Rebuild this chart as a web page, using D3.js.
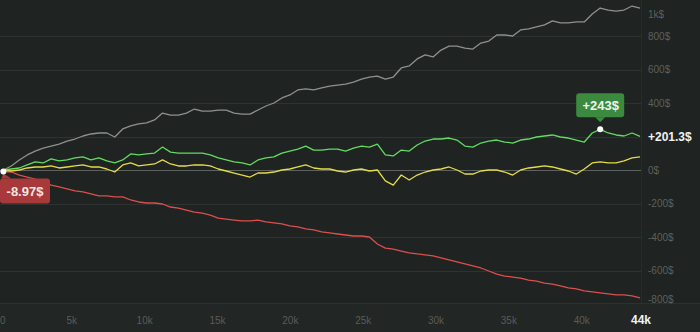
<!DOCTYPE html>
<html>
<head>
<meta charset="utf-8">
<script src="https://cdn.jsdelivr.net/npm/d3@7"></script>
<style>
  html, body { margin: 0; padding: 0; background: #1f2321; overflow: hidden; }
  svg { display: block; font-family: "Liberation Sans", Arial, sans-serif; }
</style>
</head>
<body>
<svg id="chart" width="700" height="332"></svg>
<script>
// Trade counts covered by the samples (evenly spaced from first to last trade)
const FIRST_TRADE = 300;
const LAST_TRADE = 44000;

// Cumulative profit, $ per sample
const grossValues = [
  0, 24, 60, 90, 113, 131, 143, 155, 173, 185, 203, 215, 221, 221, 197, 245, 263, 275, 281, 299,
  340, 328, 328, 340, 364, 352, 352, 358, 358, 340, 334, 334, 358, 382, 400, 430, 448, 478, 484, 478,
  490, 501, 507, 513, 525, 543, 555, 561, 543, 555, 609, 621, 663, 687, 675, 716, 740, 740, 728, 722,
  758, 770, 806, 806, 800, 836, 842, 854, 866, 890, 878, 878, 884, 884, 931, 967, 955, 949, 955, 979, 967
];
const netValues = [
  0, 6, 12, 30, 48, 42, 66, 54, 60, 72, 78, 60, 72, 54, 42, 60, 96, 90, 96, 101,
  137, 107, 101, 101, 101, 101, 90, 72, 60, 48, 42, 30, 60, 72, 78, 101, 113, 125, 143, 119,
  119, 125, 125, 113, 131, 143, 137, 155, 90, 84, 119, 113, 149, 173, 185, 185, 191, 179, 143, 137,
  161, 173, 179, 167, 161, 179, 185, 197, 203, 209, 197, 191, 179, 167, 221, 243, 221, 209, 203, 221, 201.3
];
const adjustedValues = [
  0, -6, 0, 12, 18, 18, 24, 12, 18, 24, 30, 18, 18, 6, -12, 30, 42, 24, 30, 36,
  60, 36, 24, 24, 30, 30, 24, 6, -6, -18, -30, -42, -18, -18, -12, 0, 6, 18, 30, 12,
  6, 6, -6, -12, 0, 6, -6, 0, -65, -90, -30, -60, -30, -12, 0, 6, 18, 0, -24, -24,
  -6, 0, 0, -12, -30, 0, 12, 18, 24, 18, 6, -6, -24, 6, 42, 48, 42, 42, 54, 72, 78
];
const lossValues = [
  -8.97, -12, -30, -42, -54, -72, -90, -101, -113, -125, -131, -143, -155, -155, -161, -161, -179, -191, -197, -197,
  -203, -221, -227, -239, -251, -257, -269, -287, -293, -299, -304, -304, -299, -310, -316, -322, -334, -340, -352, -358,
  -370, -376, -382, -388, -394, -394, -400, -442, -466, -472, -484, -495, -501, -507, -513, -525, -537, -549, -561, -573,
  -585, -603, -621, -633, -639, -645, -657, -663, -675, -681, -692, -704, -710, -722, -728, -734, -740, -746, -746, -752, -764
];

// Axis ticks
const xTicks = [0, 5000, 10000, 15000, 20000, 25000, 30000, 35000, 40000];
const xTickLabels = ["0", "5k", "10k", "15k", "20k", "25k", "30k", "35k", "40k"];
const xEndLabel = "44k";
const yTicks = [-800, -600, -400, -200, 0, 200, 400, 600, 800, 1000];
const yTickLabels = ["-800$", "-600$", "-400$", "-200$", "0$", "200$", "400$", "600$", "800$", "1k$"];

// Highlighted points: peak of the net curve and the first sample of the loss curve
const peakIndex = 75;
const peakLabel = "+243$";
const startLabel = "-8.97$";
const endLabel = "+201.3$";

const W = 700, H = 332;
const plot = { left: 0, right: 641, top: 0, bottom: 303 };

const svg = d3.select("#chart");

const n = netValues.length;
const tradeAt = i => FIRST_TRADE + i * (LAST_TRADE - FIRST_TRADE) / (n - 1);

const x = d3.scaleLinear().domain([0, 44000]).range([-1, 640]);
const y = d3.scaleLinear().domain([-800, 1000]).range([304, 2.5]);

// Backgrounds
svg.append("rect").attr("width", W).attr("height", H).attr("fill", "#1f2321");
svg.append("rect").attr("x", 0).attr("y", plot.bottom).attr("width", W).attr("height", H - plot.bottom)
  .attr("fill", "#222624");
svg.append("line").attr("x1", 0).attr("x2", W).attr("y1", plot.bottom + 0.5).attr("y2", plot.bottom + 0.5)
  .attr("stroke", "#2d312f").attr("stroke-width", 1);
svg.append("line").attr("x1", plot.right + 0.5).attr("x2", plot.right + 0.5).attr("y1", 0).attr("y2", plot.bottom)
  .attr("stroke", "#272b29").attr("stroke-width", 1);

// Horizontal grid
const grid = svg.append("g");
grid.selectAll("line").data(yTicks.filter(v => v > -800 && v < 1000)).join("line")
  .attr("x1", plot.left).attr("x2", plot.right)
  .attr("y1", d => Math.round(y(d)) + 0.5).attr("y2", d => Math.round(y(d)) + 0.5)
  .attr("stroke", d => d === 0 ? "#5d615f" : "#2e3230")
  .attr("stroke-width", 1);

// Curves
svg.append("clipPath").attr("id", "plotClip").append("rect")
  .attr("x", plot.left).attr("y", plot.top)
  .attr("width", plot.right - plot.left).attr("height", plot.bottom - plot.top);

const line = d3.line().x((d, i) => x(tradeAt(i))).y(d => y(d)).curve(d3.curveLinear);
const curves = svg.append("g").attr("clip-path", "url(#plotClip)");
const seriesList = [
  { values: grossValues, color: "#8f908f" },
  { values: lossValues, color: "#dc4f4c" },
  { values: adjustedValues, color: "#e4dc48" },
  { values: netValues, color: "#62dc62" }
];
curves.selectAll("path").data(seriesList).join("path")
  .attr("d", d => line(d.values))
  .attr("fill", "none")
  .attr("stroke", d => d.color)
  .attr("stroke-width", 1.3)
  .attr("stroke-linejoin", "round");

// Right value axis: labels clamped inside the plot, the one under the last-value label dropped
const endY = y(netValues[n - 1]);
const yAxis = svg.append("g");
yTicks.forEach((v, k) => {
  const cy = Math.max(14, Math.min(299, y(v)));
  if (Math.abs(cy - endY) < 12) return;
  yAxis.append("text")
    .attr("x", 648).attr("y", cy).attr("dy", "0.36em")
    .attr("font-size", 10).attr("fill", "#5c605e")
    .text(yTickLabels[k]);
});
svg.append("text")
  .attr("x", 648).attr("y", endY).attr("dy", "0.36em")
  .attr("font-size", 12).attr("font-weight", "bold").attr("fill", "#f2f2f2")
  .text(endLabel);

// Bottom trade-count axis
const xAxis = svg.append("g");
xTicks.forEach((t, k) => {
  xAxis.append("text")
    .attr("x", k === 0 ? 0 : x(t)).attr("y", 324)
    .attr("text-anchor", k === 0 ? "start" : "middle")
    .attr("font-size", 10).attr("fill", "#595d5b")
    .text(xTickLabels[k]);
});
xAxis.append("text")
  .attr("x", x(44000) + 1).attr("y", 324)
  .attr("text-anchor", "middle")
  .attr("font-size", 12).attr("font-weight", "bold").attr("fill", "#f2f2f2")
  .text(xEndLabel);

// Callout on the peak of the net curve
const px = x(tradeAt(peakIndex)), py = y(netValues[peakIndex]);
const peakBox = { w: 48, h: 24 };
const pbx = px - peakBox.w / 2, pby = py - 36;
const peakG = svg.append("g");
peakG.append("rect").attr("x", pbx).attr("y", pby).attr("width", peakBox.w).attr("height", peakBox.h)
  .attr("rx", 3).attr("fill", "#3b8a3f");
peakG.append("path")
  .attr("d", `M${px - 5},${pby + peakBox.h} L${px},${pby + peakBox.h + 5} L${px + 5},${pby + peakBox.h} Z`)
  .attr("fill", "#3b8a3f");
peakG.append("text").attr("x", px + 0.5).attr("y", pby + peakBox.h / 2).attr("dy", "0.36em")
  .attr("text-anchor", "middle").attr("font-size", 13).attr("font-weight", "bold").attr("fill", "#eef6ee")
  .text(peakLabel);
peakG.append("circle").attr("cx", px).attr("cy", py).attr("r", 3).attr("fill", "#ffffff");

// Callout on the first sample of the loss curve
const sx = x(tradeAt(0)), sy = y(lossValues[0]);
const startBox = { x: 0, y: sy + 7, w: 50, h: 25 };
const startG = svg.append("g");
startG.append("rect").attr("x", startBox.x).attr("y", startBox.y).attr("width", startBox.w).attr("height", startBox.h)
  .attr("rx", 3).attr("fill", "#a8393a");
startG.append("path")
  .attr("d", `M${sx - 2},${startBox.y} L${sx},${sy + 2} L${sx + 8},${startBox.y} Z`)
  .attr("fill", "#a8393a");
startG.append("text").attr("x", startBox.x + startBox.w / 2).attr("y", startBox.y + startBox.h / 2).attr("dy", "0.36em")
  .attr("text-anchor", "middle").attr("font-size", 13).attr("font-weight", "bold").attr("fill", "#f6e6e6")
  .text(startLabel);
startG.append("circle").attr("cx", sx).attr("cy", sy).attr("r", 3).attr("fill", "#ffffff");
</script>
</body>
</html>
